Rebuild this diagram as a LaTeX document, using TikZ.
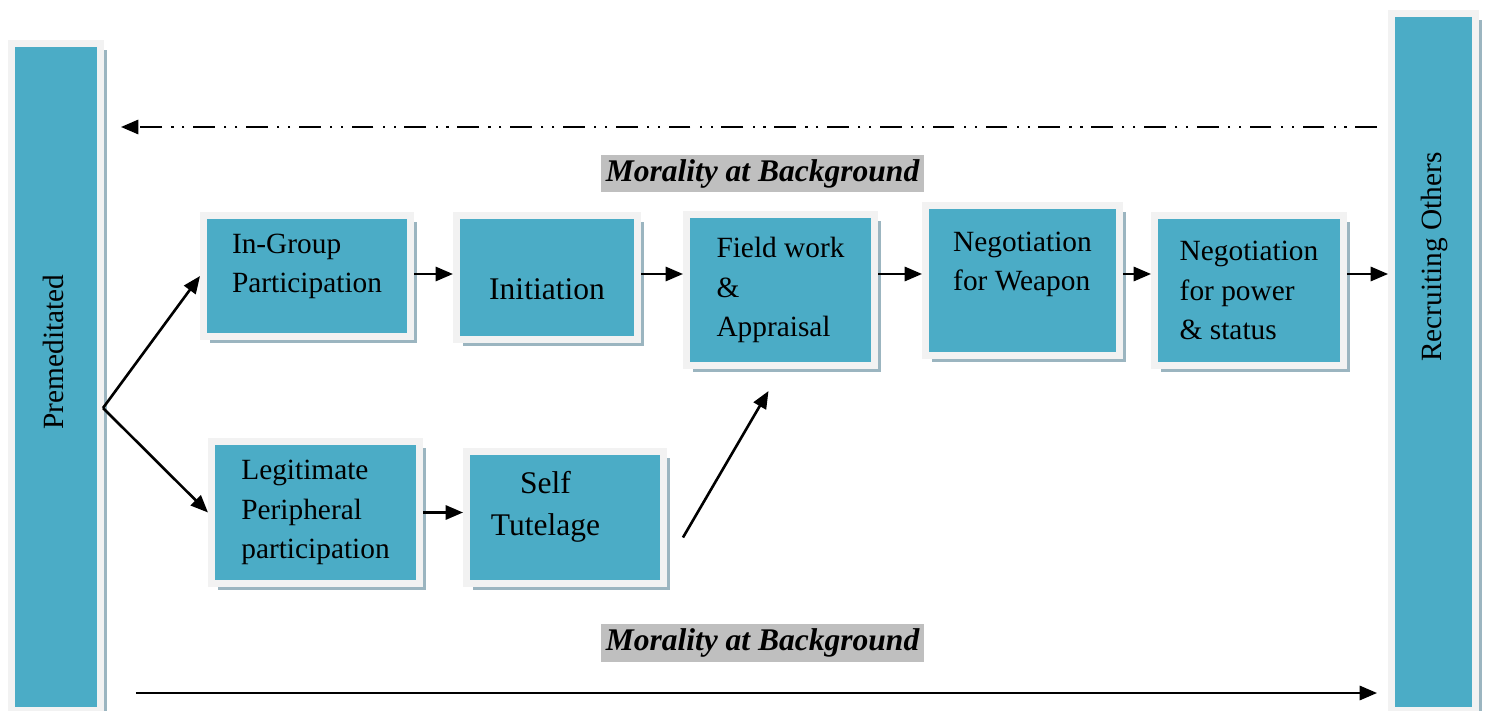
\documentclass[tikz,border=0pt]{standalone}
\usepackage{fontspec}
\setmainfont{Liberation Serif}
\usetikzlibrary{arrows.meta,shadows}
\definecolor{boxteal}{HTML}{4BACC6}
\definecolor{boxrim}{HTML}{F2F2F2}
\definecolor{boxshade}{HTML}{9BB5C0}
\definecolor{tagshade}{HTML}{BFBFBF}

\begin{document}
\begin{tikzpicture}[x=0.46pt, y=-0.46pt,
  stage/.style={draw=boxrim, line width=3.2pt, fill=boxteal, align=left, inner sep=0pt,
    font=\fontsize{13.5}{18}\selectfont, general shadow={fill=boxshade, shadow xshift=3pt, shadow yshift=-3pt}},
  flow/.style={line width=1.2pt, -{Triangle[length=8pt,width=6.5pt]}},
  backflow/.style={flow, dash pattern=on 10pt off 4pt on 1pt off 4pt on 1pt off 4.3pt},
  tag/.style={fill=tagshade, inner sep=2pt, font=\fontsize{14.5}{17}\selectfont\bfseries\itshape}]
\useasboundingbox (0,0) rectangle (1493,711);
\node[stage, minimum width=40.9pt, minimum height=306.8pt] (prem) at (56,377) {};
\node[rotate=90, font=\fontsize{13.5}{18}\selectfont] (premtext) at (53,352) {Premeditated};
\node[stage, minimum width=38.6pt, minimum height=320.6pt] (recruit) at (1433.5,362) {};
\node[rotate=90, font=\fontsize{13.5}{18}\selectfont] (recruittext) at (1434,257) {Recruiting Others};
% upper row
\node[stage, minimum width=95.2pt, minimum height=55.7pt] (ingroup) at (307,276) {In-Group\\Participation\\[-6pt]};
\node[stage, minimum width=83.3pt, minimum height=57pt, font=\fontsize{14.5}{18}\selectfont] (initiation) at (547,277.5) {\raisebox{-5.5pt}[\height][\depth]{Initiation}};
\node[stage, minimum width=86.5pt, minimum height=69.5pt] (field) at (780.5,290) {Field work\\\&\\Appraisal};
\node[stage, minimum width=89.2pt, minimum height=69pt] (weapon) at (1022.5,280.5) {Negotiation\\for Weapon\\\mbox{}};
\node[stage, minimum width=86.9pt, minimum height=69pt] (power) at (1249,290.5) {Negotiation\\for power\\\& status};
% lower row
\node[stage, minimum width=95.7pt, minimum height=65.3pt] (lpp) at (315.5,512.5) {Legitimate\\Peripheral\\participation};
\node[stage, align=center, minimum width=90.6pt, minimum height=60.7pt, font=\fontsize{14.5}{19}\selectfont] (self) at (565,517.5) {Self\rule{18pt}{0pt}\\Tutelage\rule{18pt}{0pt}\\[-6pt]};
\node[tag] (moraltop) at (762.5,173.5) {Morality at Background};
\node[tag] (moralbottom) at (762.5,643) {Morality at Background};
\coordinate (fork) at (103,408); \coordinate (row) at (0,274);
\coordinate (toprow) at (0,127); \coordinate (lowrow) at (0,693);
\draw[flow] (fork) -- (ingroup.west); \draw[flow] (fork) -- (lpp.west);
\draw[flow] (ingroup.east |- row) -- (initiation.west |- row);
\draw[flow] (initiation.east |- row) -- (field.west |- row);
\draw[flow] (field.east |- row) -- (weapon.west |- row);
\draw[flow] (weapon.east |- row) -- (power.west |- row);
\draw[flow] (power.east |- row) -- (recruit.west |- row);
\draw[flow] (lpp.east) -- (lpp.east -| self.west);
\draw[flow] ([shift={(16,20)}]self.east) -- ([shift={(-12,22)}]field.south);
\draw[backflow] ([shift={(-11,0)}]recruit.west |- toprow) -- ([shift={(17,0)}]prem.east |- toprow);
\draw[flow] ([shift={(32,0)}]prem.east |- lowrow) -- ([shift={(-11,0)}]recruit.west |- lowrow);
\end{tikzpicture}
\end{document}
